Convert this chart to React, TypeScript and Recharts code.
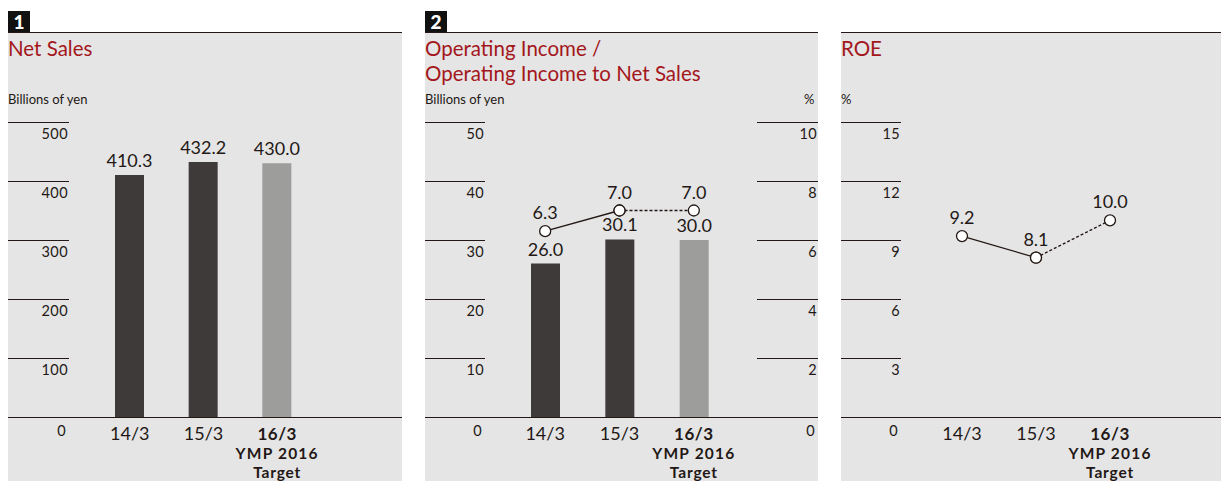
import React from 'react'
import { ComposedChart, Bar, Line, XAxis, YAxis, Cell, LabelList } from 'recharts'

// 年度カテゴリ（16/3 は中期経営計画の目標値）
const CATEGORIES = ['14/3', '15/3', '16/3']
const TARGET_FLAGS = [false, false, true]
const TARGET_NOTE = ['YMP 2016', 'Target']

const NET_SALES = [410.3, 432.2, 430.0]
const OP_INCOME = [26.0, 30.1, 30.0]
const OP_MARGIN = [6.3, 7.0, 7.0]
const ROE = [9.2, 8.1, 10.0]

const SALES_TICKS = [0, 100, 200, 300, 400, 500]
const INCOME_TICKS = [0, 10, 20, 30, 40, 50]
const MARGIN_TICKS = [0, 2, 4, 6, 8, 10]
const ROE_TICKS = [0, 3, 6, 9, 12, 15]

const FONT = 'Lato, "Noto Sans", sans-serif'
const BG = '#e5e5e5'
const TITLE_RED = '#a3171c'
const BAR_ACTUAL = '#3e3a39'
const BAR_TARGET = '#9d9d9c'
const TEXT = '#231815'

const CHART_TOP = 32
const CHART_H = 449
const MARGIN = { top: 90, right: 0, bottom: 0, left: 0 }

// solid = 実績, dotted = 実績の最終点から目標まで
const rows = CATEGORIES.map((cat, i) => {
  const dotted = (v: number) => (TARGET_FLAGS[i] || TARGET_FLAGS[i + 1] ? v : null)
  const solid = (v: number) => (!TARGET_FLAGS[i] ? v : null)
  return {
    cat,
    target: TARGET_FLAGS[i],
    sales: NET_SALES[i],
    income: OP_INCOME[i],
    marginSolid: solid(OP_MARGIN[i]),
    marginDotted: dotted(OP_MARGIN[i]),
    roeSolid: solid(ROE[i]),
    roeDotted: dotted(ROE[i]),
  }
})

/** Y軸の目盛: 短い横線 + 線の下に右寄せ数値。0 は全幅のベースライン */
function makeYTick(x1: number, x2: number, fullWidth: number) {
  return (props: any) => {
    const { payload } = props
    const y = Math.round(props.y) + 0.5
    const v = payload.value
    if (v === 0) {
      return (
        <g>
          <line x1={0} x2={fullWidth} y1={y} y2={y} stroke="#231815" strokeWidth={1.2} />
          <text x={x2 - 3} y={y + 18} textAnchor="end" fontSize={14.5} letterSpacing={0.4} fill={TEXT} fontFamily={FONT}>
            0
          </text>
        </g>
      )
    }
    return (
      <g>
        <line x1={x1} x2={x2} y1={y} y2={y} stroke="#231815" strokeWidth={1} />
        <text x={x2 - 1} y={y + 16} textAnchor="end" fontSize={14.5} letterSpacing={0.4} fill={TEXT} fontFamily={FONT}>
          {v}
        </text>
      </g>
    )
  }
}

function CategoryTick(props: any) {
  const { x, y, payload, index } = props
  const isTarget = TARGET_FLAGS[index]
  return (
    <g>
      <text x={x} y={y + 23} textAnchor="middle" fontSize={isTarget ? 17 : 18} letterSpacing={isTarget ? 0.5 : 0} fill={TEXT} fontFamily={FONT} fontWeight={isTarget ? 700 : 400}>
        {payload.value}
      </text>
      {isTarget &&
        TARGET_NOTE.map((line, j) => (
          <text key={line} x={x} y={y + 42 + j * 18.7} textAnchor="middle" fontSize={15.5} letterSpacing={j === 0 ? 1.2 : 0.8} fill={TEXT} fontFamily={FONT} fontWeight={700}>
            {line}
          </text>
        ))}
    </g>
  )
}

/** 白抜き丸 + 値ラベル。onlyTarget の場合は目標点のみラベル表示 */
function makeDot(onlyTarget: boolean) {
  return (props: any) => {
    const { cx, cy, value, index } = props
    if (cx == null || cy == null || value == null) return <g key={`d-${index}`} />
    const showLabel = onlyTarget ? TARGET_FLAGS[index] : true
    return (
      <g key={`d-${index}`}>
        <circle cx={cx} cy={cy} r={5.5} fill="#fff" stroke="#231815" strokeWidth={1.3} />
        {showLabel && (
          <text x={cx} y={cy - 12} textAnchor="middle" fontSize={18} fill={TEXT} fontFamily={FONT}>
            {Number(value).toFixed(1)}
          </text>
        )}
      </g>
    )
  }
}

const barLabel = (v: any) => Number(v).toFixed(1)

function Panel({
  left,
  width,
  badge,
  title,
  unitLeft,
  unitRight,
  children,
}: {
  left: number
  width: number
  badge?: string
  title: string[]
  unitLeft: string
  unitRight?: string
  children: React.ReactNode
}) {
  return (
    <>
      {badge && (
        <div
          style={{
            position: 'absolute',
            left,
            top: 11,
            width: 22,
            height: 21,
            background: '#111',
            color: '#fff',
            fontFamily: FONT,
            fontWeight: 900,
            fontSize: 19,
            lineHeight: '21px',
            textAlign: 'center',
          }}
        >
          {badge}
        </div>
      )}
      <div style={{ position: 'absolute', left, top: CHART_TOP, width, height: 481 - CHART_TOP, background: BG, borderTop: '1px solid #231815', boxSizing: 'border-box' }} />
      <div style={{ position: 'absolute', left, top: 36, fontFamily: FONT, fontSize: 20.5, lineHeight: '25px', color: TITLE_RED, whiteSpace: 'nowrap' }}>
        {title.map((t) => (
          <div key={t}>{t}</div>
        ))}
      </div>
      <div style={{ position: 'absolute', left, top: 92, fontFamily: FONT, fontSize: 13, lineHeight: '14px', color: TEXT }}>{unitLeft}</div>
      {unitRight && (
        <div style={{ position: 'absolute', left: left + width - 14, top: 92, fontFamily: FONT, fontSize: 13, lineHeight: '14px', color: TEXT }}>
          {unitRight}
        </div>
      )}
      <div style={{ position: 'absolute', left, top: CHART_TOP }}>{children}</div>
    </>
  )
}

export default function App() {
  return (
    <div style={{ position: 'absolute', left: 0, top: 0, width: 1221, height: 481, background: '#fff', overflow: 'hidden' }}>
      {/* 1: Net Sales */}
      <Panel left={8} width={394} badge="1" title={['Net Sales']} unitLeft="Billions of yen">
        <ComposedChart width={394} height={CHART_H} data={rows} margin={MARGIN}>
          <XAxis dataKey="cat" scale="band" axisLine={false} tickLine={false} tickSize={0} tickMargin={0} height={64} padding={{ left: 24, right: 88 }} tick={<CategoryTick />} interval={0} />
          <YAxis width={61} domain={[0, 500]} ticks={SALES_TICKS} axisLine={false} tickLine={false} tick={makeYTick(0, 61, 394)} />
          <Bar dataKey="sales" barSize={29} isAnimationActive={false}>
            {rows.map((r) => (
              <Cell key={r.cat} fill={r.target ? BAR_TARGET : BAR_ACTUAL} />
            ))}
            <LabelList dataKey="sales" position="top" offset={8} formatter={barLabel} fontSize={18} fill={TEXT} fontFamily={FONT} />
          </Bar>
        </ComposedChart>
      </Panel>

      {/* 2: Operating Income / Operating Income to Net Sales */}
      <Panel left={425} width={393} badge="2" title={['Operating Income /', 'Operating Income to Net Sales']} unitLeft="Billions of yen" unitRight="%">
        <ComposedChart width={393} height={CHART_H} data={rows} margin={MARGIN}>
          <XAxis dataKey="cat" scale="band" axisLine={false} tickLine={false} tickSize={0} tickMargin={0} height={64} padding={{ left: 23, right: 26 }} tick={<CategoryTick />} interval={0} />
          <YAxis yAxisId="yen" width={60} domain={[0, 50]} ticks={INCOME_TICKS} axisLine={false} tickLine={false} tick={makeYTick(0, 60, 393)} />
          <YAxis yAxisId="pct" orientation="right" width={61} domain={[0, 10]} ticks={MARGIN_TICKS} axisLine={false} tickLine={false} tick={makeYTick(332, 393, 393)} />
          <Bar yAxisId="yen" dataKey="income" barSize={29} isAnimationActive={false}>
            {rows.map((r) => (
              <Cell key={r.cat} fill={r.target ? BAR_TARGET : BAR_ACTUAL} />
            ))}
            <LabelList dataKey="income" position="top" offset={8} formatter={barLabel} fontSize={18} fill={TEXT} fontFamily={FONT} />
          </Bar>
          <Line yAxisId="pct" dataKey="marginSolid" stroke="#231815" strokeWidth={1.3} dot={makeDot(false)} activeDot={false} connectNulls={false} isAnimationActive={false} />
          <Line yAxisId="pct" dataKey="marginDotted" stroke="#231815" strokeWidth={1.3} strokeDasharray="3 2" dot={makeDot(true)} activeDot={false} connectNulls={false} isAnimationActive={false} />
        </ComposedChart>
      </Panel>

      {/* 3: ROE */}
      <Panel left={841} width={380} title={['ROE']} unitLeft="%">
        <ComposedChart width={380} height={CHART_H} data={rows} margin={MARGIN}>
          <XAxis dataKey="cat" scale="band" axisLine={false} tickLine={false} tickSize={0} tickMargin={0} height={64} padding={{ left: 24, right: 74 }} tick={<CategoryTick />} interval={0} />
          <YAxis width={60} domain={[0, 15]} ticks={ROE_TICKS} axisLine={false} tickLine={false} tick={makeYTick(0, 60, 380)} />
          <Line dataKey="roeSolid" stroke="#231815" strokeWidth={1.3} dot={makeDot(false)} activeDot={false} connectNulls={false} isAnimationActive={false} />
          <Line dataKey="roeDotted" stroke="#231815" strokeWidth={1.3} strokeDasharray="3 2" dot={makeDot(true)} activeDot={false} connectNulls={false} isAnimationActive={false} />
        </ComposedChart>
      </Panel>
    </div>
  )
}
